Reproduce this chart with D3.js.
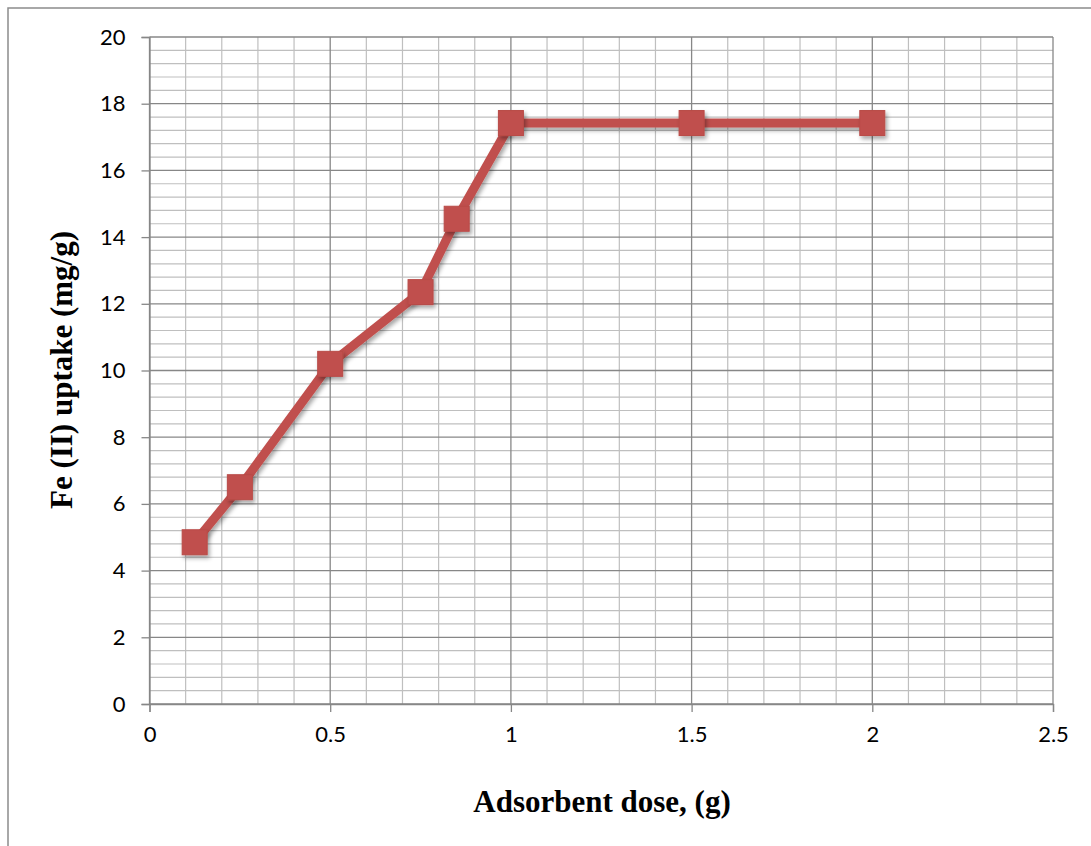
<!DOCTYPE html>
<html>
<head>
<meta charset="utf-8">
<script src="https://cdn.jsdelivr.net/npm/d3@7/dist/d3.min.js"></script>
<style>
  html, body { margin: 0; padding: 0; background: #fff; }
  svg { display: block; }
</style>
</head>
<body>
<script>
// Data
const doses = [0.125, 0.25, 0.5, 0.75, 0.85, 1, 1.5, 2];
const uptake = [4.85, 6.5, 10.2, 12.35, 14.55, 17.42, 17.42, 17.42];
const xTicks = [0, 0.5, 1, 1.5, 2, 2.5];
const yTicks = [0, 2, 4, 6, 8, 10, 12, 14, 16, 18, 20];
const xLabel = "Adsorbent dose, (g)";
const yLabel = "Fe (II) uptake (mg/g)";

const W = 1091, H = 846;
const svg = d3.select("body").append("svg").attr("width", W).attr("height", H);

// outer chart border
svg.append("rect").attr("x", 8).attr("y", 8).attr("width", W + 20).attr("height", H + 20)
  .attr("fill", "none").attr("stroke", "#8c8c8c").attr("stroke-width", 1.5);

const L = 149.5, R = 1053, T = 37, B = 704;
const x = d3.scaleLinear().domain([0, 2.5]).range([L, R]);
const y = d3.scaleLinear().domain([0, 20]).range([B, T]);

const defs = svg.append("defs");
const f = defs.append("filter").attr("id", "sh").attr("x", "-50%").attr("y", "-50%").attr("width", "200%").attr("height", "200%");
f.append("feDropShadow").attr("dx", 2).attr("dy", 3).attr("stdDeviation", 2).attr("flood-color", "#000").attr("flood-opacity", 0.35);

const g = svg.append("g");

// minor grid
const xMinor = d3.range(0, 26).map(i => i / 10).filter(v => Math.abs(v * 2 - Math.round(v * 2)) > 1e-6);
const yMinor = d3.range(0, 51).map(i => i * 0.4).filter(v => Math.abs(v / 2 - Math.round(v / 2)) > 1e-6);
g.selectAll(".xm").data(xMinor).enter().append("line")
  .attr("x1", d => x(d)).attr("x2", d => x(d)).attr("y1", T).attr("y2", B)
  .attr("stroke", "#bfbfbf").attr("stroke-width", 1.2);
g.selectAll(".ym").data(yMinor).enter().append("line")
  .attr("x1", L).attr("x2", R).attr("y1", d => y(d)).attr("y2", d => y(d))
  .attr("stroke", "#bfbfbf").attr("stroke-width", 1.2);

// major grid
g.selectAll(".xM").data(xTicks).enter().append("line")
  .attr("x1", d => x(d)).attr("x2", d => x(d)).attr("y1", T).attr("y2", B)
  .attr("stroke", "#878787").attr("stroke-width", 1.3);
g.selectAll(".yM").data(yTicks).enter().append("line")
  .attr("x1", L).attr("x2", R).attr("y1", d => y(d)).attr("y2", d => y(d))
  .attr("stroke", "#878787").attr("stroke-width", 1.3);

// axes
const xAxis = d3.axisBottom(x).tickValues(xTicks).tickSize(8).tickPadding(14).tickFormat(d3.format("~g"));
const yAxis = d3.axisLeft(y).tickValues(yTicks).tickSize(8).tickPadding(16).tickFormat(d3.format("~g"));
const gx = svg.append("g").attr("transform", `translate(0,${B})`).call(xAxis);
const gy = svg.append("g").attr("transform", `translate(${L},0)`).call(yAxis);
[gx, gy].forEach(a => {
  a.select(".domain").attr("stroke", "#878787").attr("stroke-width", 1.3);
  a.selectAll(".tick line").attr("stroke", "#878787").attr("stroke-width", 1.3);
  a.selectAll(".tick text").attr("font-family", "Lato, 'Open Sans', sans-serif")
    .attr("font-size", 22).attr("fill", "#000");
});
gx.selectAll(".tick text").attr("dy", "0.71em");

// line
const line = d3.line().x((d, i) => x(doses[i])).y(d => y(d));
svg.append("path").datum(uptake).attr("d", line)
  .attr("fill", "none").attr("stroke", "#c0504d").attr("stroke-width", 9)
  .attr("stroke-linejoin", "round").attr("filter", "url(#sh)");

// markers
const ms = 25;
svg.selectAll(".mk").data(uptake).enter().append("rect")
  .attr("x", (d, i) => x(doses[i]) - ms / 2).attr("y", d => y(d) - ms / 2)
  .attr("width", ms).attr("height", ms)
  .attr("fill", "#c0504d").attr("stroke", "#b94a47").attr("stroke-width", 1)
  .attr("filter", "url(#sh)");

// axis titles
svg.append("text").attr("x", 602).attr("y", 812).attr("text-anchor", "middle")
  .attr("font-family", "'Liberation Serif', 'Times New Roman', serif").attr("font-weight", "bold")
  .attr("font-size", 31).attr("fill", "#000").text(xLabel);
svg.append("text").attr("transform", "translate(72,370) rotate(-90)").attr("text-anchor", "middle")
  .attr("font-family", "'Liberation Serif', 'Times New Roman', serif").attr("font-weight", "bold")
  .attr("font-size", 31).attr("fill", "#000").text(yLabel);
</script>
</body>
</html>
